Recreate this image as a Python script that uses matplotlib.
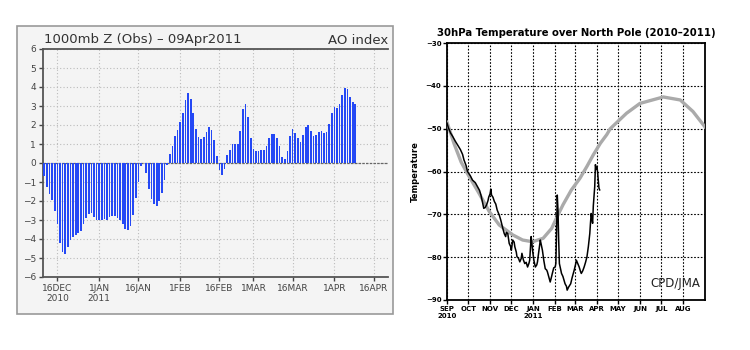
import matplotlib.pyplot as plt
import matplotlib.patches as mpatches
import pandas as pd

# AO index, daily from 11 Dec 2010 to 9 Apr 2011
ao_start = '2010-12-11'
ao = [-0.7, -1.25, -1.65, -1.95, -2.5, -3.2, -4.2, -4.7, -4.8, -4.4,
      -4.05, -3.9, -3.8, -3.7, -3.6, -3.2, -2.9, -2.7, -2.65, -2.85,
      -3.0, -3.0, -3.0, -2.95, -3.0, -2.85, -2.8, -2.8, -2.9, -3.0,
      -3.2, -3.45, -3.55, -3.3, -2.75, -1.85, -1.0, -0.15, 0.0, -0.5,
      -1.35, -1.9, -2.15, -2.25, -2.0, -1.6, -0.9, -0.1,
      0.45, 0.9, 1.4, 1.75, 2.15, 2.65, 3.3, 3.7, 3.35, 2.65,
      1.8, 1.35, 1.25, 1.35, 1.65, 1.9, 1.75, 1.2, 0.35, -0.35,
      -0.65, -0.3, 0.4, 0.7, 1.0, 1.0, 1.0, 1.7, 2.85, 3.1,
      2.4, 1.3, 0.75, 0.65, 0.65, 0.7, 0.7, 0.9, 1.3, 1.55,
      1.55, 1.3, 0.9, 0.33, 0.2, 0.65, 1.4, 1.8, 1.6, 1.3,
      1.1, 1.45, 1.9, 2.0, 1.7, 1.4, 1.45, 1.65, 1.7, 1.6,
      1.65, 2.05, 2.65, 2.95, 2.9, 3.1, 3.6, 3.95, 3.9, 3.5,
      3.2, 3.1]
ao_ticks = ['2010-12-16', '2011-01-01', '2011-01-16', '2011-02-01', '2011-02-16',
            '2011-03-01', '2011-03-16', '2011-04-01', '2011-04-16']
ao_ticklabels = ['16DEC\n2010', '1JAN\n2011', '16JAN', '1FEB', '16FEB',
                 '1MAR', '16MAR', '1APR', '16APR']

# 30hPa temperature over the North Pole, days since 1 Sep 2010
t_start = '2010-09-01'
obs_day = [0, 2, 5, 8, 12, 15, 19, 22, 24, 27, 29, 33, 36, 40, 43, 46, 48, 50,
           52, 54, 56, 58, 59, 61, 62, 63, 65, 67, 69, 71, 74, 76, 79, 81, 83,
           84, 86, 88, 90, 91, 93, 95, 96, 98, 99, 101, 103, 105, 106, 108, 110,
           112, 114, 116, 117, 118, 119, 120, 121, 123, 125, 127, 128, 130, 132,
           133, 135, 137, 139, 141, 142, 144, 146, 148, 149, 151, 153, 154, 155,
           156, 157, 158, 159, 161, 162, 164, 167, 169, 170, 172, 175, 177, 180,
           182, 183, 185, 187, 189, 190, 192, 194, 196, 198, 200, 202, 203, 204,
           205, 206, 207, 209, 210, 211, 212, 213, 214, 215, 216]
obs_temp = [-48.7, -49.8, -51, -51.8, -53, -53.8, -54.9, -56, -57.3, -58.6, -60,
            -61, -62, -62.6, -63.5, -64.4, -65.5, -67, -68.6, -68.4, -67.8, -66.8,
            -66, -65.2, -64.1, -65.5, -66, -67, -67.6, -69, -70.2, -71.3, -73.3,
            -74.5, -75.2, -74.2, -74.5, -76.8, -77.5, -78.4, -76, -76.5, -77.6,
            -78.8, -79.9, -80.2, -81.1, -80.3, -79.1, -80.6, -81.5, -81.2, -82.3,
            -81.4, -80.7, -78, -75.2, -76.5, -78.4, -80.8, -82.3, -81.8, -81.1,
            -78.5, -76, -76.8, -78.4, -80.8, -82.7, -83, -83.4, -84.6, -85.8,
            -84.5, -83.8, -82.5, -82.3, -81.5, -74, -65.5, -69, -76, -81.5, -83,
            -83.8, -84.5, -86.2, -86.8, -87.7, -87, -86.2, -84.8, -83, -81.6,
            -80.7, -81.5, -82.3, -83.4, -83.8, -83.2, -82.3, -81.2, -79.9, -77.5,
            -74.5, -72, -69.8, -71, -72.1, -68, -63.5, -58.4, -59.5, -59,
            -60, -62, -63.9, -64.3]
clim_day = [0, 10, 20, 29, 45, 60, 74, 93, 107, 121, 136, 148, 156, 164, 176,
            188, 198, 207, 217, 226, 231, 254, 273, 306, 330, 348, 365]
clim_temp = [-48.5, -53.5, -57.8, -60.5, -65, -69.4, -72.5, -74.8, -76, -76.4,
             -75.6, -73.3, -70.5, -67.8, -64.3, -61.6, -58.8, -56.1, -53.4,
             -51.4, -50, -46.4, -44.1, -42.6, -43.3, -46, -49.6]
t_ticks = ['2010-09-01', '2010-10-01', '2010-11-01', '2010-12-01', '2011-01-01',
           '2011-02-01', '2011-03-01', '2011-04-01', '2011-05-01', '2011-06-01',
           '2011-07-01', '2011-08-01']
t_ticklabels = ['SEP\n2010', 'OCT', 'NOV', 'DEC', 'JAN\n2011', 'FEB', 'MAR',
                'APR', 'MAY', 'JUN', 'JUL', 'AUG']

fig = plt.figure(figsize=(7.5, 3.5), dpi=100)

# ---- left panel ----
box = mpatches.Rectangle((17 / 750, 1 - 314 / 350), 376 / 750, 288 / 350,
                         transform=fig.transFigure, facecolor='#f4f4f4',
                         edgecolor='#999999', lw=1.2, zorder=-5)
fig.patches.append(box)

ax1 = fig.add_axes([43 / 750, 1 - 277 / 350, 345 / 750, 228 / 350])
ax1.set_zorder(2)
ax1.set_facecolor('#f4f4f4')
ao_dates = pd.date_range(ao_start, periods=len(ao))
ax1.bar(ao_dates, ao, width=0.65, color='#2448f5', zorder=3)
ax1.axhline(0, color='#666666', lw=0.9, ls=(0, (2, 1)), zorder=2)
ax1.set_ylim(-6, 6)
ax1.set_yticks(range(-6, 7))
ax1.set_xlim(pd.Timestamp('2010-12-10 12:00'), pd.Timestamp('2011-04-21 12:00'))
ax1.set_xticks(pd.to_datetime(ao_ticks))
ax1.set_xticklabels(ao_ticklabels)
ax1.grid(True, color='#bbbbbb', ls=(0, (1, 2)), lw=0.8)
ax1.tick_params(labelsize=6.5, colors='#444444', length=3, width=1, pad=2)
ax1.spines['right'].set_visible(False)
for s in ['left', 'bottom', 'top']:
    ax1.spines[s].set_color('#555555')
    ax1.spines[s].set_linewidth(1.3)
fig.text(44 / 750, 1 - 40 / 350, '1000mb Z (Obs) – 09Apr2011', fontsize=9.5,
         color='#333333', va='center')
fig.text(388 / 750, 1 - 40 / 350, 'AO index', fontsize=9.5, color='#333333',
         va='center', ha='right')

# ---- right panel ----
ax2 = fig.add_axes([447 / 750, 1 - 300 / 350, 258 / 750, 257 / 350])
t0 = pd.Timestamp(t_start)
clim_dates = t0 + pd.to_timedelta(clim_day, unit='D')
obs_dates = t0 + pd.to_timedelta(obs_day, unit='D')
ax2.plot(clim_dates, clim_temp, color='#aaaaaa', lw=2.4, zorder=3)
ax2.plot(obs_dates, obs_temp, color='black', lw=1.1, zorder=4)
ax2.set_ylim(-90, -30)
ax2.set_yticks(range(-90, -29, 10))
ax2.set_xlim(t0, pd.Timestamp('2011-09-01'))
ax2.set_xticks(pd.to_datetime(t_ticks))
ax2.set_xticklabels(t_ticklabels)
ax2.grid(True, color='black', ls=(0, (1.5, 1.5)), lw=0.8)
ax2.tick_params(labelsize=5, length=3, width=1, pad=1)
for lab in ax2.get_xticklabels() + ax2.get_yticklabels():
    lab.set_fontweight('bold')
for s in ax2.spines.values():
    s.set_linewidth(1.3)
ax2.set_ylabel('Temperature', fontsize=6, fontweight='bold', labelpad=4)
ax2.text(0.98, 0.04, 'CPD/JMA', transform=ax2.transAxes, ha='right',
         va='bottom', fontsize=8.5, color='#222222')
fig.text(576 / 750, 1 - 33 / 350, '30hPa Temperature over North Pole (2010–2011)',
         fontsize=7.3, fontweight='bold', ha='center', va='center')

fig.savefig('out.png', dpi=100)
